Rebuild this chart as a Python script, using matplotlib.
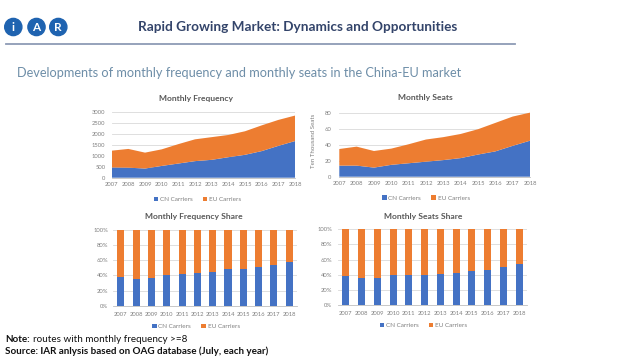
import matplotlib
matplotlib.use("Agg")
import matplotlib.pyplot as plt
from matplotlib.patches import Circle
import numpy as np

# ---------------- data ----------------
years = [2007, 2008, 2009, 2010, 2011, 2012, 2013, 2014, 2015, 2016, 2017, 2018]
year_labels = [str(y) for y in years]

freq_cn = [470, 460, 420, 540, 650, 760, 820, 940, 1050, 1220, 1460, 1680]
freq_eu = [770, 860, 730, 760, 890, 1000, 1040, 1020, 1080, 1180, 1190, 1170]

seats_cn = [14, 14, 11.5, 15, 17, 19, 21, 23.5, 28, 32, 39, 45.5]
seats_eu = [21, 24, 21, 20.5, 24, 28, 29, 30.5, 32, 36, 37, 35.5]

freq_share_cn = [38, 35, 37, 41, 42, 43, 45, 48, 49, 51, 54, 58]
freq_share_eu = [62, 65, 63, 59, 58, 57, 55, 52, 51, 49, 46, 42]

seats_share_cn = [38, 36, 36, 40, 39, 40, 41, 42, 45, 46, 50, 54]
seats_share_eu = [62, 64, 64, 60, 61, 60, 59, 58, 55, 54, 50, 46]

series_names = ["CN Carriers", "EU Carriers"]
freq_ticks = [0, 500, 1000, 1500, 2000, 2500, 3000]
seats_ticks = [0, 20, 40, 60, 80]
share_ticks = [0, 20, 40, 60, 80, 100]

# ---------------- style ----------------
BLUE = "#4472C4"
ORANGE = "#ED7D31"
GRID = "#d9d9d9"
TICK = "#7f7f7f"
TITLE = "#595959"
FONT = "Lato"

W, H = 621, 364
fig = plt.figure(figsize=(W / 100, H / 100), dpi=100)
fig.patch.set_facecolor("white")


def px_axes(x0, y0, x1, y1):
    return fig.add_axes([x0 / W, 1 - y1 / H, (x1 - x0) / W, (y1 - y0) / H])


def fxy(x, y):
    return x / W, 1 - y / H


# background overlay for header, logo and notes
bg = fig.add_axes([0, 0, 1, 1])
bg.set_xlim(0, W)
bg.set_ylim(H, 0)
bg.axis("off")

# logo
LOGO = "#1f63b0"
for cx, letter in [(13.3, "i"), (36.5, "A"), (58.3, "R")]:
    bg.add_patch(Circle((cx, 27), 8.6, color=LOGO, zorder=2))
    bg.text(cx, 27.5, letter, color="white", fontsize=8.5, fontweight="bold",
            ha="center", va="center", family=FONT, zorder=3)

bg.text(297.5, 27, "Rapid Growing Market: Dynamics and Opportunities",
        ha="center", va="center", fontsize=9.8, fontweight="bold",
        color="#33446a", family=FONT)
bg.plot([6, 515], [43.5, 43.5], color="#8e9bb5", lw=1.3)
bg.text(17, 73, "Developments of monthly frequency and monthly seats in the China-EU market",
        ha="left", va="center", fontsize=9.2, color="#6e8ea8", family=FONT)

NOTE_FS = 7.1
note_head = bg.text(5, 340, "Note:", ha="left", va="center", fontsize=NOTE_FS,
                    fontweight="bold", color="#111111", family=FONT)
renderer = fig.canvas.get_renderer()
bb = note_head.get_window_extent(renderer=renderer)
note_x = bb.x1 + 3  # pixels (dpi 100, bg spans full figure)
bg.text(note_x, 340, "routes with monthly frequency >=8", ha="left", va="center",
        fontsize=NOTE_FS, color="#111111", family=FONT)
bg.text(5, 351.5, "Source: IAR anlysis based on OAG database (July, each year)",
        ha="left", va="center", fontsize=NOTE_FS, fontweight="bold",
        color="#111111", family=FONT)


def style(ax):
    for s in ["top", "right", "left"]:
        ax.spines[s].set_visible(False)
    ax.spines["bottom"].set_color("#bfbfbf")
    ax.spines["bottom"].set_linewidth(0.6)
    ax.grid(axis="y", color=GRID, lw=0.6)
    ax.set_axisbelow(True)
    ax.tick_params(length=0, labelsize=4.2, labelcolor=TICK)
    for lab in ax.get_xticklabels() + ax.get_yticklabels():
        lab.set_family(FONT)


def legend(handles, cx, cy):
    fig.legend(handles, series_names, loc="center", bbox_to_anchor=fxy(cx, cy),
               ncol=2, frameon=False, prop={"family": FONT, "size": 4.6},
               labelcolor=TICK, handlelength=0.7, handleheight=0.7,
               handletextpad=0.3, columnspacing=1.6, borderpad=0)


def title(text, cx, cy):
    fig.text(*fxy(cx, cy), text, ha="center", va="center", fontsize=6.1,
             fontweight="bold", color=TITLE, family=FONT)


# ---- Monthly Frequency ----
ax1 = px_axes(111.7, 112.3, 295, 177.7)
h1 = ax1.stackplot(years, freq_cn, freq_eu, colors=[BLUE, ORANGE], lw=0)
ax1.set_xlim(years[0], years[-1])
ax1.set_ylim(0, 3000)
ax1.set_xticks(years, year_labels)
ax1.set_yticks(freq_ticks, [str(v) for v in freq_ticks])
style(ax1)
ax1.tick_params(axis="y", pad=4.5)
ax1.tick_params(axis="x", pad=2.8)
title("Monthly Frequency", 196, 99)
legend(h1, 197.5, 199.3)

# ---- Monthly Seats ----
ax2 = px_axes(339.3, 105.5, 530, 176.7)
h2 = ax2.stackplot(years, seats_cn, seats_eu, colors=[BLUE, ORANGE], lw=0)
ax2.set_xlim(years[0], years[-1])
ax2.set_ylim(0, 90)
ax2.set_xticks(years, year_labels)
ax2.set_yticks(seats_ticks, [str(v) for v in seats_ticks])
style(ax2)
ax2.tick_params(axis="y", pad=5.5)
ax2.tick_params(axis="x", pad=3.2)
ax2.set_ylabel("Ten Thousand Seats", fontsize=4.4, color=TICK, family=FONT, labelpad=6)
title("Monthly Seats", 425, 97.5)
legend(h2, 426, 198)

# ---- Monthly Frequency Share ----
x = np.arange(len(years))
ax3 = px_axes(113.3, 230, 296.8, 305.7)
b1 = ax3.bar(x, freq_share_cn, width=0.46, color=BLUE)
b2 = ax3.bar(x, freq_share_eu, bottom=freq_share_cn, width=0.46, color=ORANGE)
ax3.set_xlim(-0.5, len(years) - 0.5)
ax3.set_ylim(0, 100)
ax3.set_xticks(x, year_labels)
ax3.set_yticks(share_ticks, [f"{v}%" for v in share_ticks])
style(ax3)
ax3.tick_params(axis="y", pad=3.5)
ax3.tick_params(axis="x", pad=4.5)
title("Monthly Frequency Share", 194, 216.7)
legend([b1, b2], 196, 326.7)

# ---- Monthly Seats Share ----
ax4 = px_axes(337.9, 229.3, 527.1, 305)
c1 = ax4.bar(x, seats_share_cn, width=0.44, color=BLUE)
c2 = ax4.bar(x, seats_share_eu, bottom=seats_share_cn, width=0.44, color=ORANGE)
ax4.set_xlim(-0.5, len(years) - 0.5)
ax4.set_ylim(0, 100)
ax4.set_xticks(x, year_labels)
ax4.set_yticks(share_ticks, [f"{v}%" for v in share_ticks])
style(ax4)
ax4.tick_params(axis="y", pad=4)
ax4.tick_params(axis="x", pad=4.2)
title("Monthly Seats Share", 423, 216)
legend([c1, c2], 423.5, 325.7)

fig.savefig("out.png", dpi=100, facecolor="white")
